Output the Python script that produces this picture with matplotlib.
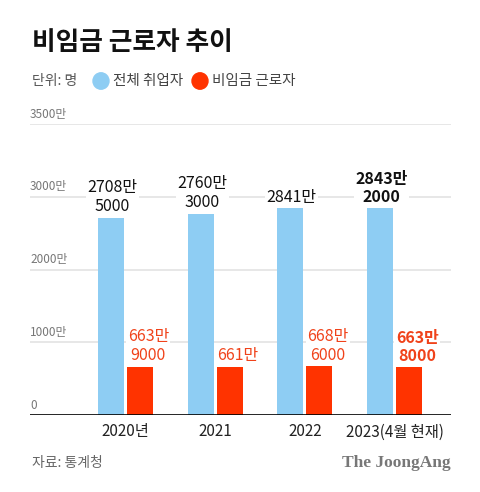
import matplotlib.pyplot as plt
from matplotlib.patches import Circle

plt.rcParams['font.family'] = ['Noto Sans CJK KR', 'DejaVu Sans']

years = ['2020년', '2021', '2022', '2023(4월 현재)']
total = [2708.5, 2760.3, 2841.0, 2843.2]        # 만 명
nonwage = [663.9, 661.0, 668.6, 663.8]
total_lbl = ['2708만\n5000', '2760만\n3000', '2841만', '2843만\n2000']
nonwage_lbl = ['663만\n9000', '661만', '668만\n6000', '663만\n8000']
grid_vals = [1000, 2000, 3000, 4000]
grid_lbls = ['1000만', '2000만', '3000만', '3500만']

BLUE = '#8ecdf3'
RED = '#ff3300'
RED_TXT = '#f0421a'

fig = plt.figure(figsize=(4.8, 4.92), dpi=100)
ax = fig.add_axes([30 / 480, 77 / 492, 421 / 480, 291 / 492])

x = range(len(years))
w = 0.29
off = 0.162
ax.bar([i - off for i in x], total, width=w, color=BLUE, zorder=2)
ax.bar([i + off for i in x], nonwage, width=w, color=RED, zorder=2)

# gridlines + labels
for v, l in zip(grid_vals, grid_lbls):
    ax.axhline(v, color='#e3e3e3', lw=1.2, zorder=0)
    ax.text(0, v + 45, l, transform=ax.get_yaxis_transform(), fontsize=8.5,
            color='#777777', ha='left', va='bottom')
ax.text(0, 45, '0', transform=ax.get_yaxis_transform(), fontsize=8.5,
        color='#777777', ha='left', va='bottom')
ax.axhline(0, color='black', lw=1.2, zorder=3)

# value labels
for i in x:
    bold = 'bold' if i == len(years) - 1 else 'normal'
    ax.annotate(total_lbl[i], (i - off, total[i]), xytext=(1, 2),
                textcoords='offset points', ha='center', va='bottom',
                fontsize=11.5, color='#111111', fontweight=bold, linespacing=1.15,
                bbox=dict(facecolor='white', edgecolor='none', pad=1), zorder=1)
    ax.annotate(nonwage_lbl[i], (i + off, nonwage[i]), xytext=(6, 2),
                textcoords='offset points', ha='center', va='bottom',
                fontsize=11.5, color=RED_TXT, fontweight=bold, linespacing=1.15,
                bbox=dict(facecolor='white', edgecolor='none', pad=1), zorder=1)

ax.set_xlim(-1.065, 3.63)
ax.set_ylim(0, 4000)
ax.set_xticks(list(x))
ax.set_xticklabels(years, fontsize=11, color='#222222')
ax.tick_params(axis='x', length=0, pad=6)
ax.set_yticks([])
for s in ax.spines.values():
    s.set_visible(False)

# title / legend / footer
fig.text(32 / 480, 1 - 43 / 492, '비임금 근로자 추이', fontsize=18.5, fontweight='bold',
         color='#111111', va='center', ha='left')
fig.text(32 / 480, 1 - 81 / 492, '단위: 명', fontsize=10, color='#555555', va='center')
for cx, c, lbl, tx in [(101, BLUE, '전체 취업자', 113), (200, RED, '비임금 근로자', 212)]:
    fig.patches.append(Circle((cx / 480, 1 - 81 / 492), 8 / 480, transform=fig.transFigure,
                              color=c, zorder=5))
    fig.text(tx / 480, 1 - 81 / 492, lbl, fontsize=10.5, color='#444444', va='center')

fig.text(32 / 480, 1 - 463 / 492, '자료: 통계청', fontsize=10, color='#666666', va='center')
fig.text(451 / 480, 1 - 463 / 492, 'The JoongAng', fontsize=12.5, fontweight='bold',
         family='Liberation Serif', color='#777777', va='center', ha='right')

fig.savefig('out.png', dpi=100)
